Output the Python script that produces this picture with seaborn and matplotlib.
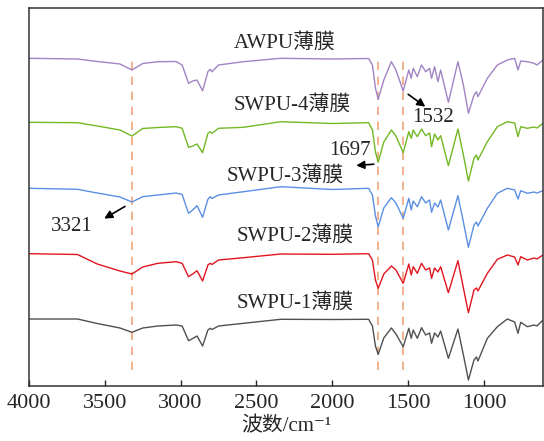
import numpy as np
import pandas as pd
import matplotlib
matplotlib.use("Agg")
import matplotlib.pyplot as plt
import seaborn as sns

# Wavenumber grid (cm^-1) of read feature points
wavenumber = [4000, 3680, 3550, 3400, 3321, 3250, 3150, 3030, 2990, 2948,
              2920, 2892, 2855, 2820, 2805, 2793, 2750, 2585, 2340, 2000,
              1760, 1735, 1715, 1697, 1660, 1610, 1580, 1532, 1495, 1479,
              1466, 1439, 1411, 1384, 1358, 1345, 1325, 1303, 1285, 1234,
              1171, 1135, 1102, 1065, 1049, 1039, 977, 911, 845, 797,
              775, 757, 713, 669, 650, 610]

# Transmittance (a.u., stacked spectra)
awpu = [327.7, 327, 324.5, 322, 316, 322.5, 324.3, 324.5, 321, 302.7,
        305, 306, 295.3, 314.3, 316.7, 314.3, 321, 324.3, 327.7, 327,
        327.5, 321, 298, 286.7, 306, 324.3, 316, 295, 316, 307.7,
        317.7, 309.3, 321, 314.3, 317.7, 307.7, 319.3, 304.3, 316, 283.7,
        324.3, 301, 272.7, 291, 294.3, 289.3, 307.7, 321, 326, 327.7,
        316, 325, 324.3, 322.7, 321, 326]
swpu4 = [263.7, 263.3, 260, 256, 250, 257.5, 258.5, 259.3, 257.7, 238.7,
         240, 242, 233.3, 252.7, 254.3, 252.7, 257.7, 258.7, 264.3, 262.5,
         263.3, 256, 234, 223.7, 244, 256, 250, 233.3, 254.3, 247.7,
         256, 249.3, 257, 250.3, 253, 239.3, 252, 246, 250.3, 220.3,
         257, 231, 205, 227.7, 231, 226, 244.3, 259.3, 264.3, 263,
         249.3, 259.3, 257.7, 259, 258, 262.7]
swpu3 = [197.7, 196.7, 193, 189, 184, 189.3, 191, 193, 191.5, 172.7,
         176, 180.3, 168.7, 186.7, 189.3, 187.5, 191, 194.3, 199.3, 196.5,
         197.7, 191, 170, 159.3, 178, 188.3, 183, 167.7, 187.7, 176,
         185, 179.3, 189.3, 183, 186, 173.7, 183, 179, 186, 156,
         190.3, 164, 138.7, 161, 164, 160, 177.7, 192.7, 197.7, 196,
         187, 195.3, 192.7, 194, 193, 195.3]
swpu2 = [132.3, 131.5, 122, 115, 112, 119, 122.7, 124.3, 122.7, 109.3,
         112, 115.3, 105, 121, 122.7, 121.5, 126, 128.3, 132, 131.7,
         132.3, 126, 106, 97.7, 112, 120, 116, 102.7, 122, 111,
         119.3, 112.7, 122.7, 116, 118, 107.7, 118, 114, 119.3, 93.3,
         125.3, 98, 73.3, 96, 98, 95, 112.7, 126.7, 131, 129,
         121, 129.3, 126, 128, 127, 131]
swpu1 = [67, 67, 62.5, 58, 53.7, 58, 60, 61, 60, 45.3,
         47.5, 50, 40, 56, 57.7, 56.5, 60, 62.7, 66.7, 66.5,
         66.7, 60, 40, 31.7, 48, 58, 52, 39.3, 57.7, 47.7,
         56, 47.7, 58.3, 51, 53, 42.7, 53, 49, 55, 27.7,
         57, 31, 6, 26, 29, 25, 47.7, 59.3, 67, 64,
         52.7, 63.7, 59.3, 61, 60, 66]

series_names = ["AWPU薄膜", "SWPU-4薄膜", "SWPU-3薄膜", "SWPU-2薄膜", "SWPU-1薄膜"]
series_values = [awpu, swpu4, swpu3, swpu2, swpu1]
colors = ["#a283c4", "#72b824", "#5b8fe3", "#e2151f", "#505050"]
marked_peaks = [3321, 1697, 1532]
xticks = [4000, 3500, 3000, 2500, 2000, 1500, 1000]

df = pd.concat([pd.DataFrame({"wn": wavenumber, "T": v, "s": n})
                for n, v in zip(series_names, series_values)], ignore_index=True)

sns.set_style("ticks")
plt.rcParams["font.family"] = ["Liberation Serif", "DejaVu Serif", "Noto Sans CJK SC"]

fig = plt.figure(figsize=(5.44, 4.41), dpi=100)
ax = fig.add_axes([29/544, 55/441, 514/544, 378/441])

sns.lineplot(data=df, x="wn", y="T", hue="s", palette=dict(zip(series_names, colors)),
             sort=False, estimator=None, legend=False, linewidth=1.0, ax=ax)

for p in marked_peaks:
    ax.plot([p, p], [16, 331], ls=(0, (5, 4)), color="#f0a57a", lw=1.2, zorder=0)

ax.set_xlim(4000, 610)
ax.set_ylim(0, 378)
ax.set_xticks(xticks)
ax.set_xticklabels([str(t) for t in xticks])
ax.set_yticks([])
ax.tick_params(axis="x", direction="in", length=4.5, width=1, labelsize=16, pad=6)
for sp in ax.spines.values():
    sp.set_visible(True)
    sp.set_linewidth(1.1)
    sp.set_color("#333333")
ax.set_xlabel("波数/cm⁻¹", fontsize=15, labelpad=3)
ax.set_ylabel("")

fs = 15
ax.text(2312, 343.5, "AWPU薄膜", ha="center", va="center", fontsize=fs)
ax.text(2266, 281, "SWPU-4薄膜", ha="center", va="center", fontsize=fs)
ax.text(2309, 210.5, "SWPU-3薄膜", ha="center", va="center", fontsize=fs)
ax.text(2243, 150, "SWPU-2薄膜", ha="center", va="center", fontsize=fs)
ax.text(2243, 83.5, "SWPU-1薄膜", ha="center", va="center", fontsize=fs)
ax.text(1332, 268.5, "1532", ha="center", va="center", fontsize=fs)
ax.text(1884, 235.5, "1697", ha="center", va="center", fontsize=fs)
ax.text(3718, 159.5, "3321", ha="center", va="center", fontsize=fs)

arrow = dict(arrowstyle="-|>", color="black", lw=1.2, mutation_scale=12)
ax.annotate("", xy=(1371, 277.7), xytext=(1514, 293.3), arrowprops=arrow)
ax.annotate("", xy=(1860, 220.3), xytext=(1708, 222), arrowprops=arrow)
ax.annotate("", xy=(3520, 166), xytext=(3351, 181), arrowprops=arrow)

fig.savefig("out.png", dpi=100)
